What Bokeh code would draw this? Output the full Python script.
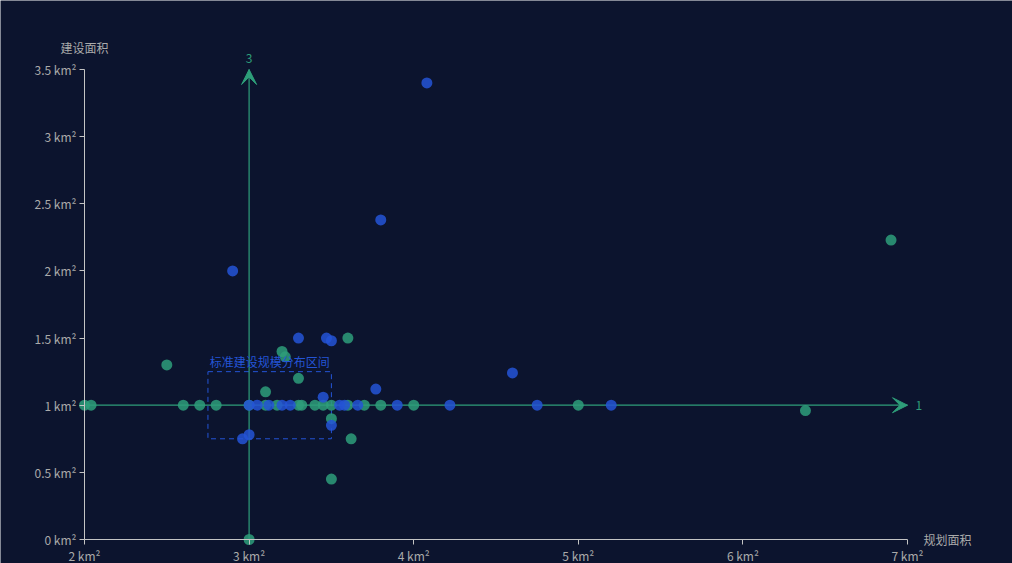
from bokeh.plotting import figure
from bokeh.models import Range1d, Arrow, VeeHead, BoxAnnotation, Label, FixedTicker, ColumnDataSource
from bokeh.embed import file_html
from bokeh.resources import INLINE

# ---- data ----
green_x = [2.0, 2.04, 2.5, 2.6, 2.7, 2.8, 3.0, 3.0, 3.1, 3.1, 3.17, 3.2, 3.22, 3.3, 3.3, 3.32,
           3.4, 3.45, 3.5, 3.5, 3.5, 3.6, 3.6, 3.62, 3.7, 3.8, 4.0, 5.0, 6.38, 6.9]
green_y = [1.0, 1.0, 1.3, 1.0, 1.0, 1.0, 1.0, 0.0, 1.1, 1.0, 1.0, 1.4, 1.36, 1.2, 1.0, 1.0,
           1.0, 1.0, 1.0, 0.9, 0.45, 1.5, 1.0, 0.75, 1.0, 1.0, 1.0, 1.0, 0.96, 2.23]

blue_x = [2.9, 2.96, 3.0, 3.0, 3.05, 3.12, 3.2, 3.25, 3.3, 3.45, 3.47, 3.5, 3.5, 3.55, 3.58,
          3.66, 3.77, 3.8, 3.9, 4.08, 4.22, 4.6, 4.75, 5.2]
blue_y = [2.0, 0.75, 0.78, 1.0, 1.0, 1.0, 1.0, 1.0, 1.5, 1.06, 1.5, 1.48, 0.85, 1.0, 1.0,
          1.0, 1.12, 2.38, 1.0, 3.4, 1.0, 1.24, 1.0, 1.0]

x_ticks = [2, 3, 4, 5, 6, 7]
y_ticks = [0, 0.5, 1, 1.5, 2, 2.5, 3, 3.5]
x_tick_labels = ["2 km²", "3 km²", "4 km²", "5 km²", "6 km²", "7 km²"]
y_tick_labels = ["0 km²", "0.5 km²", "1 km²", "1.5 km²", "2 km²", "2.5 km²", "3 km²", "3.5 km²"]

x_name = "规划面积"
y_name = "建设面积"

mark_x = 3      # vertical mark line value
mark_y = 1      # horizontal mark line value
area_x = [2.75, 3.5]
area_y = [0.75, 1.25]
area_name = "标准建设规模分布区间"

# ---- layout (pixels inside the figure) ----
FIG_W, FIG_H = 1012, 563
AX_LEFT, AX_RIGHT = 84, 907     # where x min / x max sit
AX_TOP, AX_BOTTOM = 69, 539     # where y max / y min sit

xmin, xmax = x_ticks[0], x_ticks[-1]
ymin, ymax = y_ticks[0], y_ticks[-1]
ppx = (AX_RIGHT - AX_LEFT) / (xmax - xmin)
ppy = (AX_BOTTOM - AX_TOP) / (ymax - ymin)
xr = Range1d(xmin - AX_LEFT / ppx, xmax + (FIG_W - AX_RIGHT) / ppx)
yr = Range1d(ymin - (FIG_H - AX_BOTTOM) / ppy, ymax + AX_TOP / ppy)

# ---- style ----
BG = "#0c142e"
GREEN = "#2e9e7a"
BLUE = "#2454d6"
AXIS = "#c4c4c4"
TXT = "#aaaaaa"
FONT = "Noto Sans CJK SC"

p = figure(width=FIG_W, height=FIG_H, output_backend="svg", toolbar_location=None,
           x_range=xr, y_range=yr,
           min_border_left=0, min_border_top=0, min_border_right=0, min_border_bottom=0)
p.background_fill_color = BG
p.border_fill_color = BG
p.outline_line_color = None
p.xgrid.visible = False
p.ygrid.visible = False

for ax, ticks, labels in ((p.xaxis[0], x_ticks, x_tick_labels), (p.yaxis[0], y_ticks, y_tick_labels)):
    ax.ticker = FixedTicker(ticks=ticks)
    ax.major_label_overrides = {t: l for t, l in zip(ticks, labels)}
    ax.axis_line_color = AXIS
    ax.major_tick_line_color = AXIS
    ax.minor_tick_line_color = None
    ax.major_tick_in = 0
    ax.major_tick_out = 5
    ax.major_label_text_color = TXT
    ax.major_label_text_font = FONT
    ax.major_label_text_font_size = "12px"
p.xaxis[0].fixed_location = ymin
p.yaxis[0].fixed_location = xmin
p.xaxis[0].bounds = (xmin, xmax)
p.yaxis[0].bounds = (ymin, ymax)
p.xaxis.major_label_standoff = 2
p.yaxis.major_label_standoff = 3

# mark area
p.add_layout(BoxAnnotation(left=area_x[0], right=area_x[1], bottom=area_y[0], top=area_y[1],
                           fill_alpha=0, line_color=BLUE, line_alpha=1, line_width=1,
                           line_dash="5 4", level="underlay"))
p.add_layout(Label(x=sum(area_x) / 2, y=area_y[1], text=area_name, text_align="center",
                   text_baseline="bottom", y_offset=2, text_color=BLUE, text_font=FONT,
                   text_font_size="12px"))

# mark lines: bodies as segments, heads as arrow annotations
p.segment(x0=[mark_x, xmin], y0=[ymin, mark_y], x1=[mark_x, xmax], y1=[ymax, mark_y],
          line_color=GREEN, line_width=1.2)
for xs, ys, xe, ye in ((mark_x, ymin, mark_x, ymax), (xmin, mark_y, xmax, mark_y)):
    p.add_layout(Arrow(x_start=xs, y_start=ys, x_end=xe, y_end=ye,
                       line_alpha=0, line_width=0,
                       end=VeeHead(size=15, fill_color=GREEN, line_color=GREEN)))
p.add_layout(Label(x=mark_x, y=ymax, text=str(mark_x), text_align="center",
                   text_baseline="bottom", y_offset=7, text_color=GREEN, text_font=FONT,
                   text_font_size="12px"))
p.add_layout(Label(x=xmax, y=mark_y, text=str(mark_y), text_align="left",
                   text_baseline="middle", x_offset=8, text_color=GREEN, text_font=FONT,
                   text_font_size="12px"))

# axis names
p.add_layout(Label(x=xmin, y=ymax, text=y_name, text_align="center",
                   text_baseline="middle", y_offset=22, text_color=TXT, text_font=FONT,
                   text_font_size="12px"))
p.add_layout(Label(x=xmax, y=ymin, text=x_name, text_align="left",
                   text_baseline="middle", x_offset=16, text_color=TXT, text_font=FONT,
                   text_font_size="12px"))

# points
p.scatter(x="x", y="y", source=ColumnDataSource(dict(x=green_x, y=green_y)), size=11,
          fill_color=GREEN, line_color=None, fill_alpha=0.85)
p.scatter(x="x", y="y", source=ColumnDataSource(dict(x=blue_x, y=blue_y)), size=11,
          fill_color=BLUE, line_color=None, fill_alpha=0.85)

html = file_html(p, INLINE)
html = html.replace("<body>", '<body style="background-color: %s;">' % BG, 1)
open("out.html", "w").write(html)
